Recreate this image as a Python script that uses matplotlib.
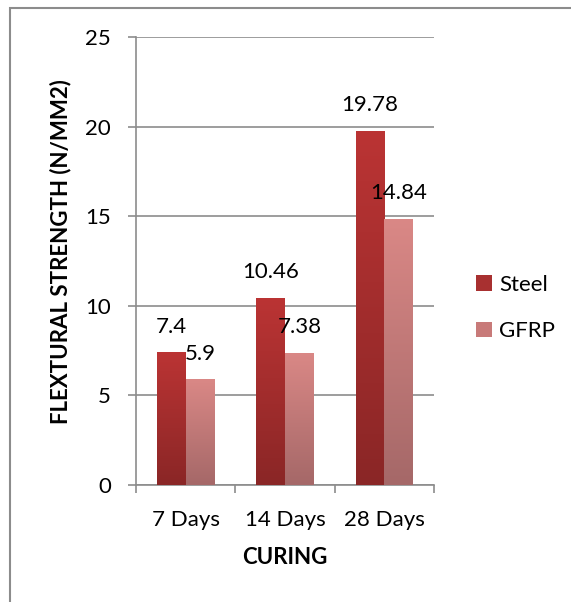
import matplotlib
matplotlib.use("Agg")
import matplotlib.pyplot as plt
import numpy as np
from matplotlib.patches import Rectangle, Patch
from matplotlib.colors import to_rgb

categories = ["7 Days", "14 Days", "28 Days"]
steel = [7.4, 10.46, 19.78]
gfrp = [5.9, 7.38, 14.84]
series_names = ["Steel", "GFRP"]
y_ticks = [0, 5, 10, 15, 20, 25]

plt.rcParams['font.family'] = ['Lato', 'DejaVu Sans']
FS = 16

fig = plt.figure(figsize=(5.71, 6.02), dpi=100)
ax = fig.add_axes([136/571, 1-485/602, (434-136)/571, (485-37)/602])

x = np.arange(len(categories))
w = 0.29
grey = '#8c8c8c'

colors = {
    "Steel": ("#bb3434", "#8a2626"),
    "GFRP": ("#da8886", "#a56868"),
}

def grad_bars(xs, vals, name):
    top, bot = colors[name]
    t = np.array(to_rgb(top)); b = np.array(to_rgb(bot))
    n = 256
    f = np.linspace(0, 1, n)[:, None]
    img = (t[None, :] * (1 - f) + b[None, :] * f)[:, None, :]
    bars = ax.bar(xs, vals, w, color=top, edgecolor='none', zorder=3)
    for bar in bars:
        x0 = bar.get_x(); x1 = x0 + bar.get_width(); h = bar.get_height()
        im = ax.imshow(img, extent=[x0, x1, 0, h], aspect='auto', zorder=4,
                       origin='upper')
        im.set_clip_path(bar)
    for xi, v in zip(xs, vals):
        ax.annotate(f"{v:g}", (xi, v), xytext=(0, 18.5), textcoords='offset points',
                    ha='center', va='center', fontsize=FS, color='black', zorder=6)
    return bars

grad_bars(x - w/2, steel, "Steel")
grad_bars(x + w/2, gfrp, "GFRP")

ax.set_xlim(-0.5, len(categories) - 0.5)
ax.set_ylim(0, 25)
ax.set_yticks(y_ticks)
ax.set_xticks(x)
ax.set_xticklabels(categories)
ax.set_xticks(np.arange(len(categories) + 1) - 0.5, minor=True)
ax.tick_params(axis='x', which='major', length=0, pad=18, labelsize=FS)
ax.tick_params(axis='x', which='minor', length=6, width=1.2, color=grey)
ax.tick_params(axis='y', length=6, width=1.2, color=grey, pad=12, labelsize=FS)
ax.yaxis.grid(True, color=grey, lw=1.2, zorder=0)
ax.set_axisbelow(True)
for s in ['top', 'right']:
    ax.spines[s].set_visible(False)
for s in ['left', 'bottom']:
    ax.spines[s].set_color(grey)
    ax.spines[s].set_linewidth(1.2)

ax.set_ylabel("FLEXTURAL STRENGTH (N/MM2)", fontsize=FS, fontweight='bold')
ax.yaxis.set_label_coords(61/571, 1-252/602, transform=fig.transFigure)
ax.set_xlabel("CURING", fontsize=FS, fontweight='bold')
ax.xaxis.set_label_coords(285/571, 1-558/602, transform=fig.transFigure)
ax.xaxis.label.set_va('center')
ax.yaxis.label.set_va('center')

handles = [Patch(facecolor="#a83030", edgecolor='none'),
           Patch(facecolor="#c87a79", edgecolor='none')]
fig.legend(handles, series_names, loc='center left',
           bbox_to_anchor=(476/571, 1-308/602), frameon=False, fontsize=FS,
           handlelength=0.7, handleheight=0.7, handletextpad=0.35,
           labelspacing=1.2, borderpad=0, borderaxespad=0)

fig.add_artist(Rectangle((10/571, -0.1), 1.2, 1.1 - 8/602, transform=fig.transFigure,
                         fill=False, edgecolor=grey, lw=1.5))

fig.savefig("out.png", dpi=100)
